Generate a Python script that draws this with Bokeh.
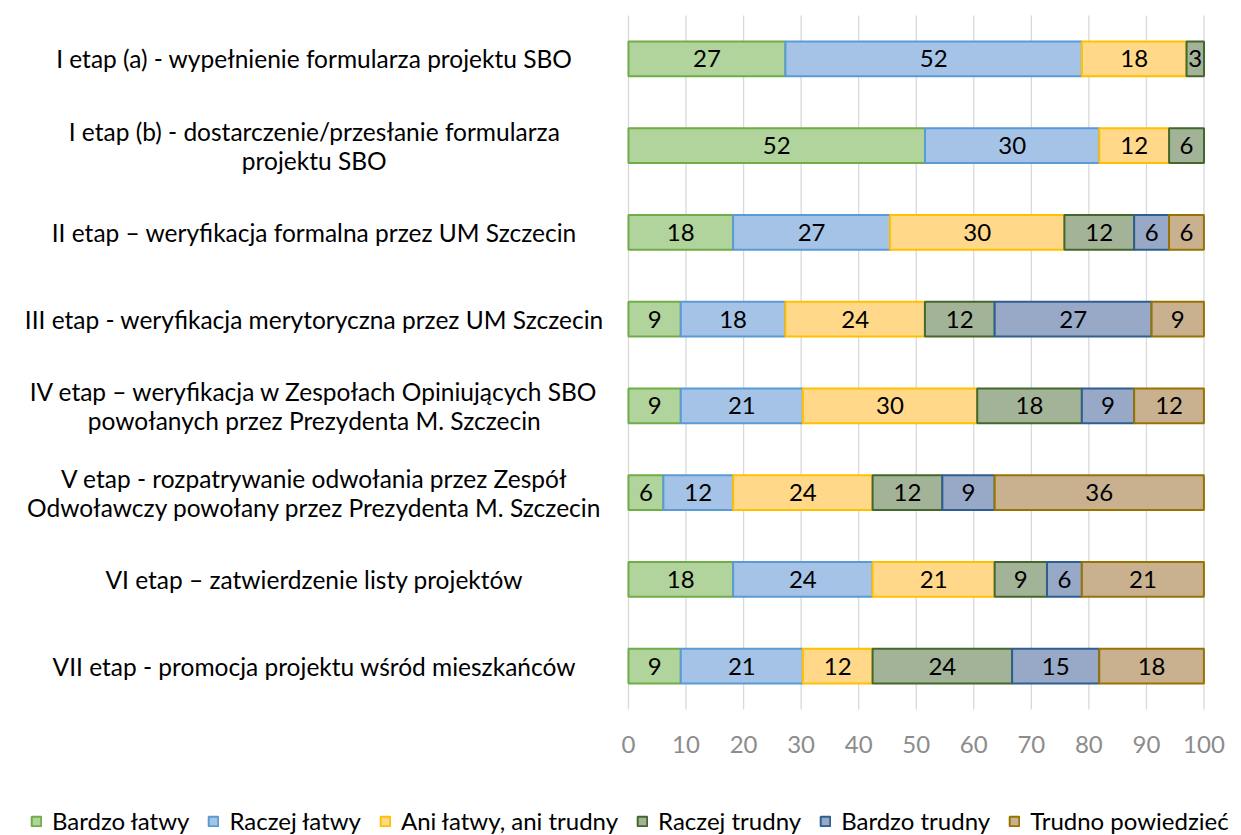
from bokeh.plotting import figure
from bokeh.models import Range1d, FixedTicker, Legend, LegendItem, ColumnDataSource, LinearAxis
from bokeh.core.properties import value
from bokeh.embed import file_html
from bokeh.resources import INLINE

categories = [
    "I etap (a) - wypełnienie formularza projektu SBO",
    "I etap (b) - dostarczenie/przesłanie formularza\nprojektu SBO",
    "II etap – weryfikacja formalna przez UM Szczecin",
    "III etap - weryfikacja merytoryczna przez UM Szczecin",
    "IV etap – weryfikacja w Zespołach Opiniujących SBO\npowołanych przez Prezydenta M. Szczecin",
    "V etap - rozpatrywanie odwołania przez Zespół\nOdwoławczy powołany przez Prezydenta M. Szczecin",
    "VI etap – zatwierdzenie listy projektów",
    "VII etap - promocja projektu wśród mieszkańców",
]
series = ["Bardzo łatwy", "Raczej łatwy", "Ani łatwy, ani trudny",
          "Raczej trudny", "Bardzo trudny", "Trudno powiedzieć"]
bardzo_latwy = [27.27, 51.52, 18.18, 9.09, 9.09, 6.06, 18.18, 9.09]
raczej_latwy = [51.52, 30.30, 27.27, 18.18, 21.21, 12.12, 24.24, 21.21]
ani_latwy_ani_trudny = [18.18, 12.12, 30.30, 24.24, 30.30, 24.24, 21.21, 12.12]
raczej_trudny = [3.03, 6.06, 12.12, 12.12, 18.18, 12.12, 9.09, 24.24]
bardzo_trudny = [0, 0, 6.06, 27.27, 9.09, 9.09, 6.06, 15.15]
trudno_powiedziec = [0, 0, 6.06, 9.09, 12.12, 36.36, 21.21, 18.18]
x_ticks = [0, 10, 20, 30, 40, 50, 60, 70, 80, 90, 100]

values_by_series = [bardzo_latwy, raczej_latwy, ani_latwy_ani_trudny,
                    raczej_trudny, bardzo_trudny, trudno_powiedziec]
fills = ["#b0d49b", "#a4c3e7", "#ffd88a", "#a3b398", "#97a9c6", "#c9b190"]
lines = ["#70ad47", "#5b9bd5", "#ffc000", "#43682b", "#2e5f8f", "#997300"]

FONT = "Lato"
n = len(categories)
ys = [n - 0.5 - i for i in range(n)]

p = figure(frame_width=1241, frame_height=835,
           x_range=Range1d(-109.12, 106.52), y_range=Range1d(-1.4524, 8.1729),
           min_border=0, toolbar_location=None, output_backend="svg",
           x_axis_location=None, y_axis_location=None)
p.outline_line_color = None
p.grid.visible = False

# vertical gridlines
p.segment(x0=x_ticks, y0=[0] * len(x_ticks), x1=x_ticks, y1=[n] * len(x_ticks),
          line_color="#d9d9d9", line_width=1.3)

cum = [0.0] * n
items = []
lab_x, lab_y, lab_t = [], [], []
for name, vals, fc, lc in zip(series, values_by_series, fills, lines):
    left, right, yy = [], [], []
    for i, v in enumerate(vals):
        if v > 0:
            left.append(cum[i])
            right.append(cum[i] + v)
            yy.append(ys[i])
            lab_x.append(cum[i] + v / 2)
            lab_y.append(ys[i])
            lab_t.append(str(int(round(v))))
        cum[i] += v
    src = ColumnDataSource(dict(y=yy, left=left, right=right))
    r = p.hbar(y="y", left="left", right="right", height=0.403, source=src,
               fill_color=fc, line_color=lc, line_width=2)
    items.append(LegendItem(label=name, renderers=[r]))

p.text(x=lab_x, y=lab_y, text=lab_t, text_align="center", text_baseline="middle",
       text_font=value(FONT), text_font_size="24px", text_color="#000000")

# category labels
p.text(x=[-54.6] * n, y=ys, text=categories, text_align="center", text_baseline="middle",
       text_font=value(FONT), text_font_size="24.5px", text_color="#000000",
       text_line_height=1.0)

ax = LinearAxis(ticker=FixedTicker(ticks=x_ticks), fixed_location=0)
ax.axis_line_color = None
ax.major_tick_line_color = None
ax.minor_tick_line_color = None
ax.major_label_standoff = 20
ax.major_label_text_font = FONT
ax.major_label_text_font_size = "24px"
ax.major_label_text_color = "#8c8c8c"
p.add_layout(ax, "below")

legend = Legend(items=items, orientation="horizontal", location=(30, 0),
                glyph_width=12, glyph_height=12, label_standoff=10, spacing=18,
                padding=0, margin=0, label_text_font=FONT, label_text_font_size="24px",
                label_text_color="#000000", background_fill_alpha=0, border_line_alpha=0)
p.add_layout(legend)

open("out.html", "w").write(file_html(p, INLINE))
